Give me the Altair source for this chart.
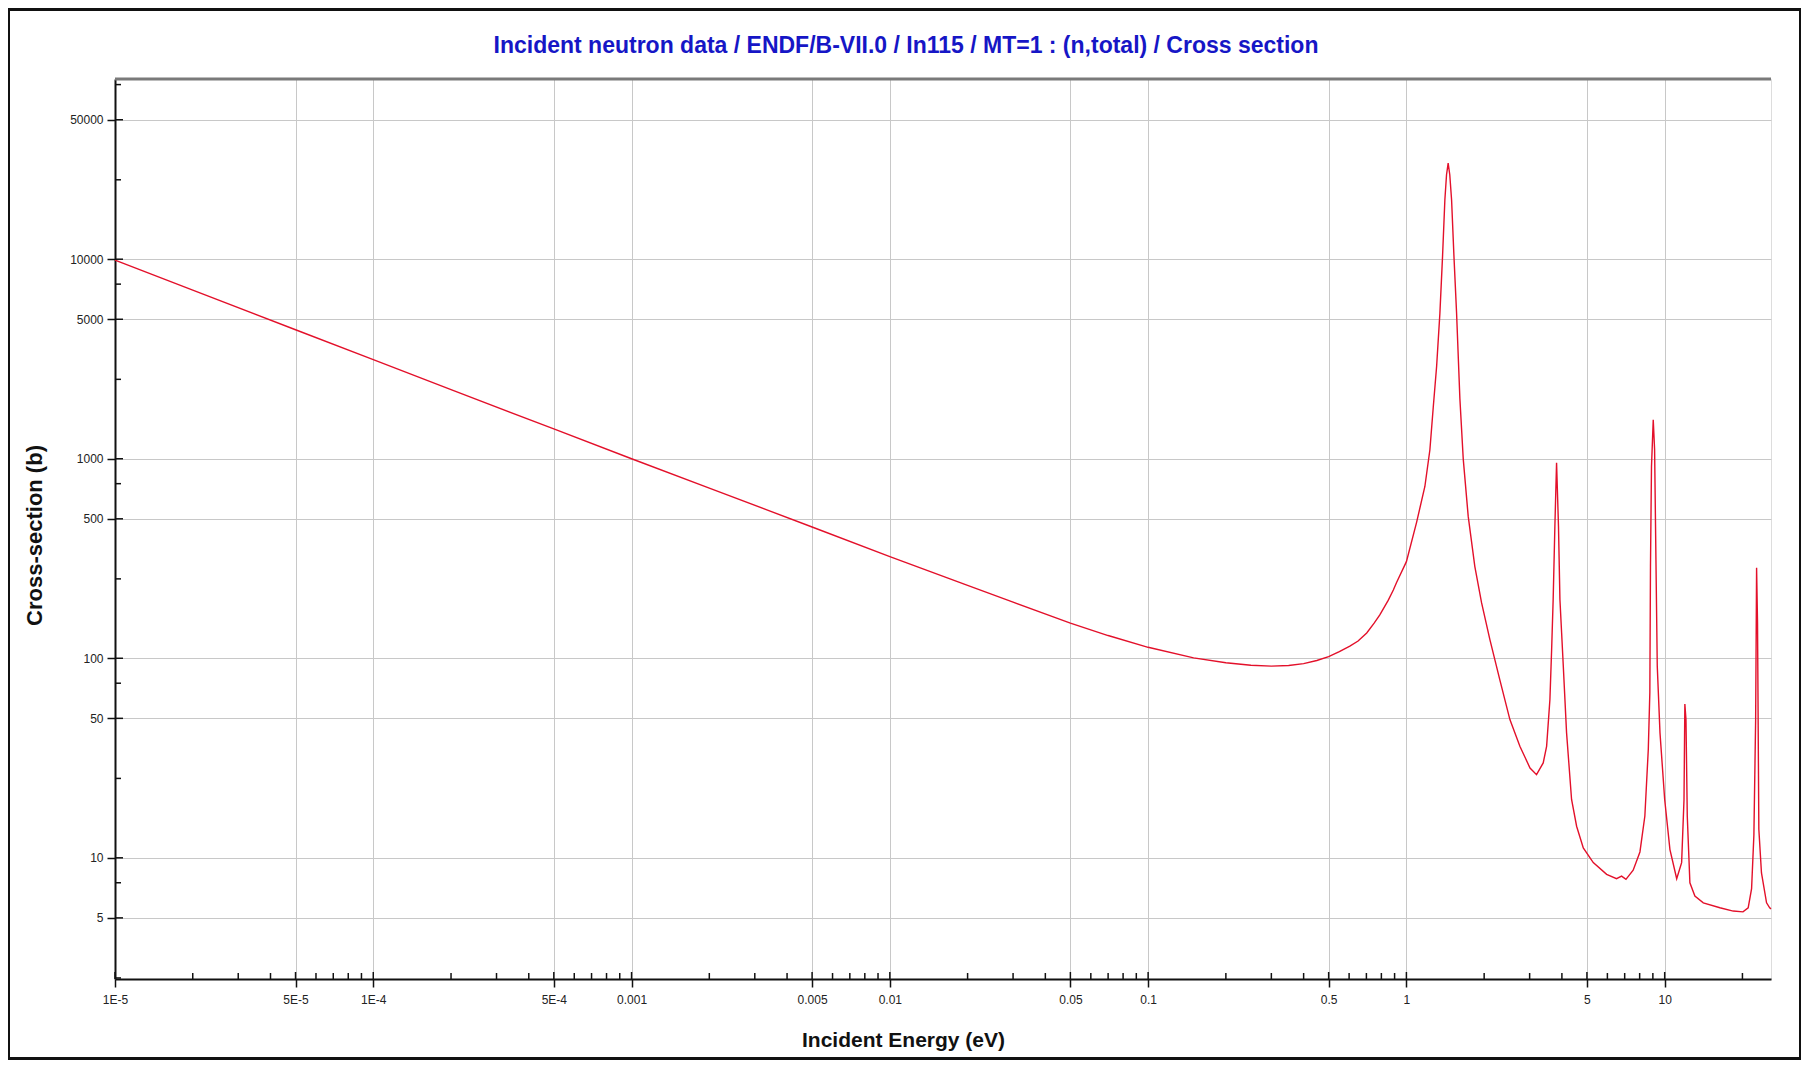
import math
import altair as alt
import pandas as pd

# ---- data (energy in eV, cross-section in barns) ----
energy_ev = [
    1e-5, 2e-5, 5e-5, 1e-4, 2e-4, 5e-4, 1e-3, 2e-3, 5e-3, 0.01, 0.02, 0.03, 0.05, 0.07,
    0.1, 0.15, 0.2, 0.25, 0.3, 0.35, 0.4, 0.45, 0.5, 0.55, 0.604, 0.65, 0.702, 0.75,
    0.789, 0.85, 0.89, 0.916, 1.0, 1.095, 1.179, 1.233, 1.27, 1.309, 1.348, 1.38, 1.409,
    1.43, 1.451, 1.472, 1.496, 1.528, 1.564, 1.611, 1.66, 1.735, 1.84, 1.954, 2.105,
    2.30, 2.516, 2.75, 3.01, 3.19, 3.386, 3.49, 3.594, 3.65, 3.70, 3.757, 3.814, 3.88,
    3.93, 3.99, 4.05, 4.17, 4.36, 4.56, 4.84, 5.29, 5.96, 6.51, 6.81, 7.08, 7.55, 8.02,
    8.38, 8.64, 8.76, 8.81, 8.89, 9.03, 9.14, 9.25, 9.36, 9.59, 10.0, 10.48, 11.13,
    11.63, 11.88, 11.97, 12.09, 12.23, 12.52, 13.09, 14.11, 16.36, 18.42, 20.1, 21.05,
    21.7, 22.15, 22.5, 22.69, 22.88, 23.15, 23.7, 24.8, 25.5, 25.8,
]
cross_section_b = [
    9900, 7000, 4430, 3140, 2220, 1410, 1000, 712, 455, 323, 232, 191, 150, 130,
    113.5, 100.5, 95, 92.3, 91.3, 92, 94, 97.5, 102, 108, 115, 122, 134, 150,
    165, 195, 220, 240, 305, 480, 726, 1109, 1800, 2897, 5370, 10300, 19800,
    26500, 30300, 26500, 19800, 10300, 5370, 2000, 995, 514, 289, 190, 124,
    78, 49.3, 36.2, 28.2, 26.1, 29.9, 36.2, 62, 110.6, 197, 458, 955, 458,
    197, 134, 91.2, 42.3, 19.6, 14.4, 11.2, 9.46, 8.27, 7.86, 8.1, 7.8, 8.67, 10.7,
    16.2, 34.9, 67.2, 289, 915, 1567, 1109, 312, 91.2, 42.3, 19.6, 11.0, 7.86,
    9.46, 19.6, 59, 49.3, 16.2, 7.5, 6.43, 5.95, 5.62, 5.41, 5.36, 5.62,
    7.0, 13, 49.3, 284, 150, 13.9, 8.4, 5.95, 5.62, 5.55,
]

x_major = [1e-5, 5e-5, 1e-4, 5e-4, 1e-3, 5e-3, 0.01, 0.05, 0.1, 0.5, 1, 5, 10]
x_major_labels = ["1E-5", "5E-5", "1E-4", "5E-4", "0.001", "0.005", "0.01",
                  "0.05", "0.1", "0.5", "1", "5", "10"]
x_minor = [2e-5, 3e-5, 4e-5, 6e-5, 7e-5, 8e-5, 9e-5,
           2e-4, 3e-4, 4e-4, 6e-4, 7e-4, 8e-4, 9e-4,
           2e-3, 3e-3, 4e-3, 6e-3, 7e-3, 8e-3, 9e-3,
           0.02, 0.03, 0.04, 0.06, 0.07, 0.08, 0.09,
           0.2, 0.3, 0.4, 0.6, 0.7, 0.8, 0.9,
           2, 3, 4, 6, 7, 8, 9, 20]
y_major = [5, 10, 50, 100, 500, 1000, 5000, 10000, 50000]
y_minor = [2.5, 7.5, 25, 75, 250, 750, 2500, 7500, 25000, 75000]

x_domain = [1e-5, 25.8]
y_domain = [2.47, 80000]

title_text = "Incident neutron data / ENDF/B-VII.0 / In115 / MT=1 : (n,total) / Cross section"

W, H = 1656, 900
FONT = "Liberation Sans"

# label expression built from the tick lists
label_expr = "''"
for v, lab in reversed(list(zip(x_major, x_major_labels))):
    label_expr = f"abs(log(datum.value)/LN10 - ({math.log10(v):.6f})) < 0.001 ? '{lab}' : ({label_expr})"

curve_df = pd.DataFrame({"E": energy_ev, "sigma": cross_section_b})
xmaj_df = pd.DataFrame({"E": x_major})
xmin_df = pd.DataFrame({"E": x_minor})
ymaj_df = pd.DataFrame({"sigma": y_major})
ymin_df = pd.DataFrame({"sigma": y_minor})

xscale = alt.Scale(type="log", domain=x_domain, nice=False)
yscale = alt.Scale(type="log", domain=y_domain, nice=False)

x_axis = alt.Axis(
    values=x_major, labelExpr=label_expr, title="Incident Energy (eV)",
    titleFont=FONT, titleFontSize=21, titleFontWeight="bold", titleColor="#111",
    titleX=788, titleY=67, titleAlign="center", titleBaseline="alphabetic",
    labelFont=FONT, labelFontSize=12, labelColor="#222", labelPadding=7,
    tickSize=8, tickColor="#111", tickWidth=1.5,
    domainColor="#111", domainWidth=2,
    grid=True, gridColor="#c8c8c8", gridWidth=1, labelFlush=False,
)
y_axis = alt.Axis(
    values=y_major, format="d", title="Cross-section (b)",
    titleFont=FONT, titleFontSize=22, titleFontWeight="bold", titleColor="#111",
    titleX=-74, titleY=456, titleAngle=270, titleAlign="center", titleBaseline="alphabetic",
    labelFont=FONT, labelFontSize=12, labelColor="#222", labelPadding=4,
    tickSize=8, tickColor="#111", tickWidth=1.5,
    domainColor="#111", domainWidth=2,
    grid=True, gridColor="#c8c8c8", gridWidth=1, labelFlush=False,
)

curve = alt.Chart(curve_df).mark_line(color="#e3102a", strokeWidth=1.4).encode(
    x=alt.X("E:Q", scale=xscale, axis=x_axis),
    y=alt.Y("sigma:Q", scale=yscale, axis=y_axis),
)

x_major_in = alt.Chart(xmaj_df).mark_rule(color="#111", strokeWidth=1.5).encode(
    x=alt.X("E:Q", scale=xscale, axis=x_axis), y=alt.value(H), y2=alt.value(H - 7))
x_minor_in = alt.Chart(xmin_df).mark_rule(color="#111", strokeWidth=1.5).encode(
    x=alt.X("E:Q", scale=xscale, axis=x_axis), y=alt.value(H), y2=alt.value(H - 6))
y_major_in = alt.Chart(ymaj_df).mark_rule(color="#111", strokeWidth=1.5).encode(
    y=alt.Y("sigma:Q", scale=yscale, axis=y_axis), x=alt.value(0), x2=alt.value(8))
y_minor_in = alt.Chart(ymin_df).mark_rule(color="#111", strokeWidth=1.5).encode(
    y=alt.Y("sigma:Q", scale=yscale, axis=y_axis), x=alt.value(0), x2=alt.value(6))

frame_df = pd.DataFrame({"k": [0]})
top_line = alt.Chart(frame_df).mark_rule(color="#7a7a7a", strokeWidth=3).encode(
    x=alt.value(0), x2=alt.value(W), y=alt.value(0))
outer = alt.Chart(frame_df).mark_rect(filled=False, color="#111", strokeWidth=3).encode(
    x=alt.value(-106.5), x2=alt.value(1685.5), y=alt.value(-69.5), y2=alt.value(979.5))
title_mark = alt.Chart(frame_df).mark_text(
    text=title_text, font=FONT, fontSize=23, fontWeight="bold", color="#1616c6",
    align="center", baseline="alphabetic",
).encode(x=alt.value(791), y=alt.value(-26))

chart = alt.layer(
    curve, x_major_in, x_minor_in, y_major_in, y_minor_in, top_line, title_mark, outer
).properties(
    width=W, height=H,
    autosize=alt.AutoSizeParams(type="none"),
    padding={"left": 107, "top": 71, "right": 30, "bottom": 81},
).configure_view(stroke="#333", strokeWidth=1).configure(background="white")

chart.save("out.html", embed_options={"renderer": "svg", "actions": False})
